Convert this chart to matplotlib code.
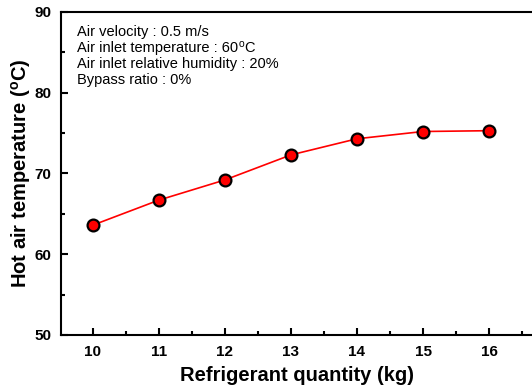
import matplotlib
matplotlib.use("Agg")
import matplotlib.pyplot as plt
from matplotlib.ticker import MultipleLocator

plt.rcParams['font.family'] = ['Liberation Sans', 'DejaVu Sans']
plt.rcParams['mathtext.fontset'] = 'custom'
plt.rcParams['mathtext.rm'] = 'Liberation Sans'
plt.rcParams['mathtext.bf'] = 'Liberation Sans:bold'

# data
quantity = [10, 11, 12, 13, 14, 15, 16]
hot_air_temp = [63.6, 66.7, 69.2, 72.3, 74.3, 75.2, 75.3]

# notes; second line gets a superscript "o" + "C" appended
notes = ["Air velocity : 0.5 m/s",
         "Air inlet temperature : 60",
         "Air inlet relative humidity : 20%",
         "Bypass ratio : 0%"]

fig = plt.figure(figsize=(5.32, 3.87), dpi=100)
ax = fig.add_axes([0.1147, 0.1344, 0.8853, 0.8346])

ax.plot(quantity, hot_air_temp, color='red', lw=1.2, marker='o', ms=8.5,
        mfc='red', mec='black', mew=1.6)

ax.set_xlim(9.52, 16.65)
ax.set_ylim(50, 90)
ax.xaxis.set_major_locator(MultipleLocator(1))
ax.xaxis.set_minor_locator(MultipleLocator(0.5))
ax.yaxis.set_major_locator(MultipleLocator(10))
ax.yaxis.set_minor_locator(MultipleLocator(5))
ax.tick_params(which='both', direction='in', width=1.5)
ax.tick_params(which='major', length=5, labelsize=11, pad=7)
ax.tick_params(which='minor', length=3)
for lab in ax.get_xticklabels() + ax.get_yticklabels():
    lab.set_fontweight('bold')
for s in ax.spines.values():
    s.set_linewidth(1.5)
ax.spines['right'].set_visible(False)

ax.set_xlabel('Refrigerant quantity (kg)', fontsize=14.5, fontweight='bold', labelpad=5)
ax.set_ylabel('Hot air temperature ($^\\mathbf{o}$C)', fontsize=14.5, fontweight='bold', labelpad=1)

txts = []
ys = []
for i, line in enumerate(notes):
    yf = 1 - (24 + 16 * i) / 323
    t = ax.text(0.033, yf, line, transform=ax.transAxes,
                fontsize=10.5, va='baseline', ha='left')
    txts.append(t)
    ys.append(yf)

# superscript degree mark after "60", placed in pixel space
fig.canvas.draw()
inv = ax.transAxes.inverted()
bb = txts[1].get_window_extent()
y_base = ax.transAxes.transform((0, ys[1]))[1]
t_o = ax.text(*inv.transform((bb.x1 + 0.5, y_base + 5)), 'o', transform=ax.transAxes,
              fontsize=7.5, va='baseline', ha='left')
fig.canvas.draw()
bb2 = t_o.get_window_extent()
ax.text(*inv.transform((bb2.x1, y_base)), 'C', transform=ax.transAxes,
        fontsize=10.5, va='baseline', ha='left')

fig.savefig('out.png', dpi=100)
